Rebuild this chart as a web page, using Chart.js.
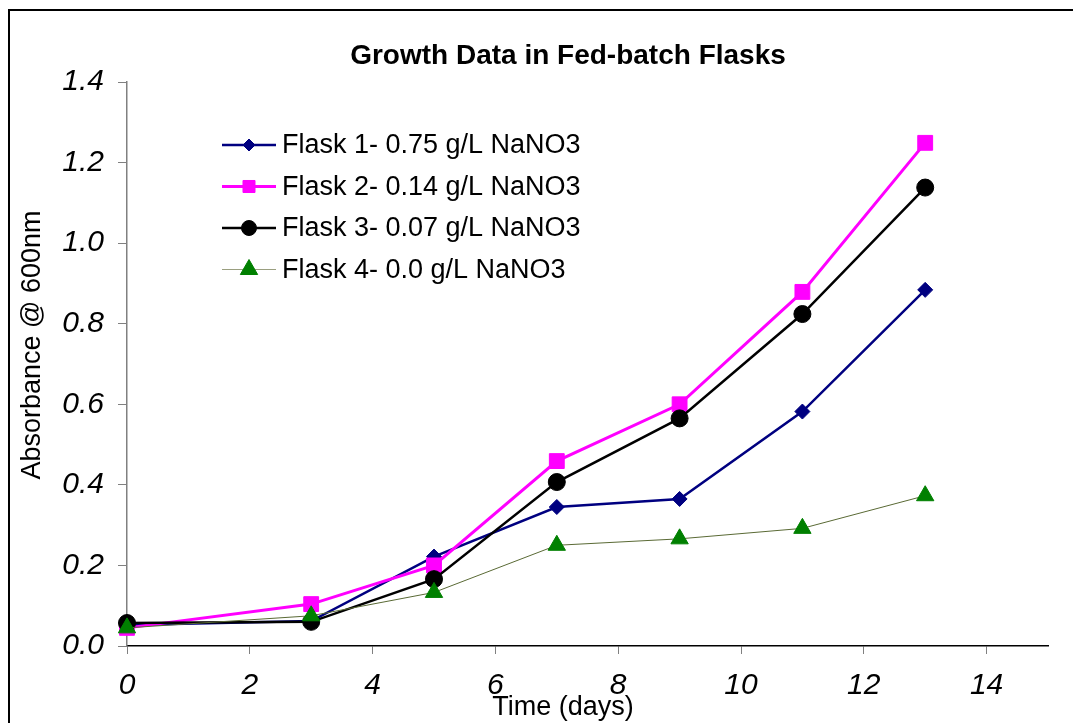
<!DOCTYPE html>
<html>
<head>
<meta charset="utf-8">
<title>Growth Data in Fed-batch Flasks</title>
<script src="https://cdn.jsdelivr.net/npm/chart.js@4/dist/chart.umd.min.js"></script>
<style>
  html, body { margin: 0; padding: 0; background: #fff; }
  #wrap { position: relative; width: 1073px; height: 723px; overflow: hidden; background: #fff; }
  #frame { position: absolute; left: 8px; top: 9px; width: 2000px; height: 2000px;
           border-left: 2px solid #000; border-top: 2px solid #000; pointer-events: none; }
  canvas { position: absolute; left: 0; top: 0; }
</style>
</head>
<body>
<div id="wrap">
  <canvas id="chart" width="1073" height="723"></canvas>
  <div id="frame"></div>
</div>
<script>
// Sampling days
const days = [0, 3, 5, 7, 9, 11, 13];

// Absorbance at 600 nm for each flask
const flask1 = [0.052, 0.062, 0.222, 0.345, 0.365, 0.582, 0.884];
const flask2 = [0.045, 0.104, 0.200, 0.459, 0.600, 0.879, 1.249];
const flask3 = [0.057, 0.060, 0.166, 0.407, 0.565, 0.824, 1.138];
const flask4 = [0.045, 0.075, 0.133, 0.250, 0.266, 0.292, 0.373];

const seriesLabels = [
  'Flask 1- 0.75 g/L NaNO3',
  'Flask 2- 0.14 g/L NaNO3',
  'Flask 3- 0.07 g/L NaNO3',
  'Flask 4- 0.0 g/L NaNO3'
];

// Axis ticks
const xTicks = [0, 2, 4, 6, 8, 10, 12, 14];
const yTicks = [0, 0.2, 0.4, 0.6, 0.8, 1.0, 1.2, 1.4];

const chartTitle = 'Growth Data in Fed-batch Flasks';
const xTitle = 'Time (days)';
const yTitle = 'Absorbance @ 600nm';

const FONT = '"Liberation Sans", Arial, sans-serif';

const toPoints = vals => days.map((d, i) => ({ x: d, y: vals[i] }));

const datasets = [
  { label: seriesLabels[0], data: toPoints(flask1), borderColor: '#000080', borderWidth: 2.5,
    pointStyle: 'rectRot', pointRadius: 7.5, pointBackgroundColor: '#000080', pointBorderColor: '#000080',
    legendLine: '#000080', legendRadius: 6, order: 4 },
  { label: seriesLabels[1], data: toPoints(flask2), borderColor: '#FF00FF', borderWidth: 3,
    pointStyle: 'rect', pointRadius: 10.5, pointBackgroundColor: '#FF00FF', pointBorderColor: '#FF00FF',
    legendLine: '#FF00FF', legendRadius: 8.5, order: 3 },
  { label: seriesLabels[2], data: toPoints(flask3), borderColor: '#000000', borderWidth: 2.5,
    pointStyle: 'circle', pointRadius: 8.5, pointBackgroundColor: '#000000', pointBorderColor: '#000000',
    legendLine: '#000000', legendRadius: 7.5, order: 2 },
  { label: seriesLabels[3], data: toPoints(flask4), borderColor: '#5a6a35', borderWidth: 1,
    pointStyle: 'triangle', pointRadius: 10, pointBackgroundColor: '#008000', pointBorderColor: '#008000',
    legendLine: '#9a9f80', legendRadius: 10, order: 1 }
];

datasets.forEach(ds => {
  ds.tension = 0;
  ds.fill = false;
  ds.clip = false;
  ds.pointBorderWidth = 1;
  ds.pointHoverRadius = ds.pointRadius;
});

// Title, axis titles and the line+marker legend
const decorations = {
  id: 'decorations',
  afterDatasetsDraw(chart) {
    const ctx = chart.ctx;
    ctx.save();
    ctx.fillStyle = '#000';
    ctx.textBaseline = 'middle';

    ctx.font = 'bold 28px ' + FONT;
    ctx.textAlign = 'center';
    ctx.fillText(chartTitle, 568, 56);

    ctx.font = '27px ' + FONT;
    ctx.fillText(xTitle, 563, 708);

    ctx.save();
    ctx.translate(33, 345);
    ctx.rotate(-Math.PI / 2);
    ctx.fillText(yTitle, 0, 0);
    ctx.restore();

    // legend
    chart.data.datasets.forEach((ds, i) => {
      const y = 145 + i * 41.5;
      ctx.save();
      ctx.strokeStyle = ds.legendLine;
      ctx.lineWidth = ds.borderWidth;
      ctx.beginPath();
      ctx.moveTo(222, y);
      ctx.lineTo(276, y);
      ctx.stroke();
      ctx.fillStyle = ds.pointBackgroundColor;
      ctx.strokeStyle = ds.pointBorderColor;
      ctx.lineWidth = 1;
      Chart.helpers.drawPoint(ctx, { pointStyle: ds.pointStyle, radius: ds.legendRadius, borderWidth: 1, rotation: 0 }, 249, y);
      ctx.restore();

      ctx.font = '27px ' + FONT;
      ctx.textAlign = 'left';
      ctx.fillStyle = '#000';
      ctx.fillText(ds.label, 282, y + 1);
    });
    ctx.restore();
  }
};

const whiteBg = {
  id: 'whiteBg',
  beforeDraw(chart) {
    const ctx = chart.ctx;
    ctx.save();
    ctx.fillStyle = '#fff';
    ctx.fillRect(0, 0, chart.width, chart.height);
    ctx.restore();
  }
};

new Chart(document.getElementById('chart'), {
  type: 'line',
  data: { datasets },
  options: {
    responsive: false,
    animation: false,
    devicePixelRatio: 1,
    layout: { padding: { top: 82, right: 25, bottom: 0, left: 0 } },
    plugins: { legend: { display: false }, title: { display: false }, tooltip: { enabled: false } },
    scales: {
      x: {
        type: 'linear', min: 0, max: 15,
        afterBuildTicks: s => { s.ticks = xTicks.map(v => ({ value: v })); },
        afterFit: s => { s.height = 77; },
        grid: { display: true, drawOnChartArea: false, drawTicks: true, tickLength: 8, color: '#808080', lineWidth: 1 },
        border: { display: true, color: '#000000', width: 1.5 },
        ticks: { font: { family: FONT, size: 30, style: 'italic' }, color: '#000', padding: 14,
                 maxRotation: 0, autoSkip: false, callback: v => String(v) }
      },
      y: {
        type: 'linear', min: 0, max: 1.4,
        afterBuildTicks: s => { s.ticks = yTicks.map(v => ({ value: v })); },
        afterFit: s => { s.width = 127; },
        grid: { display: true, drawOnChartArea: false, drawTicks: true, tickLength: 9, color: '#808080', lineWidth: 1 },
        border: { display: true, color: '#808080', width: 1.5 },
        ticks: { font: { family: FONT, size: 30, style: 'italic' }, color: '#000', padding: 14,
                 autoSkip: false, callback: v => Number(v).toFixed(1) }
      }
    }
  },
  plugins: [whiteBg, decorations]
});
</script>
</body>
</html>
